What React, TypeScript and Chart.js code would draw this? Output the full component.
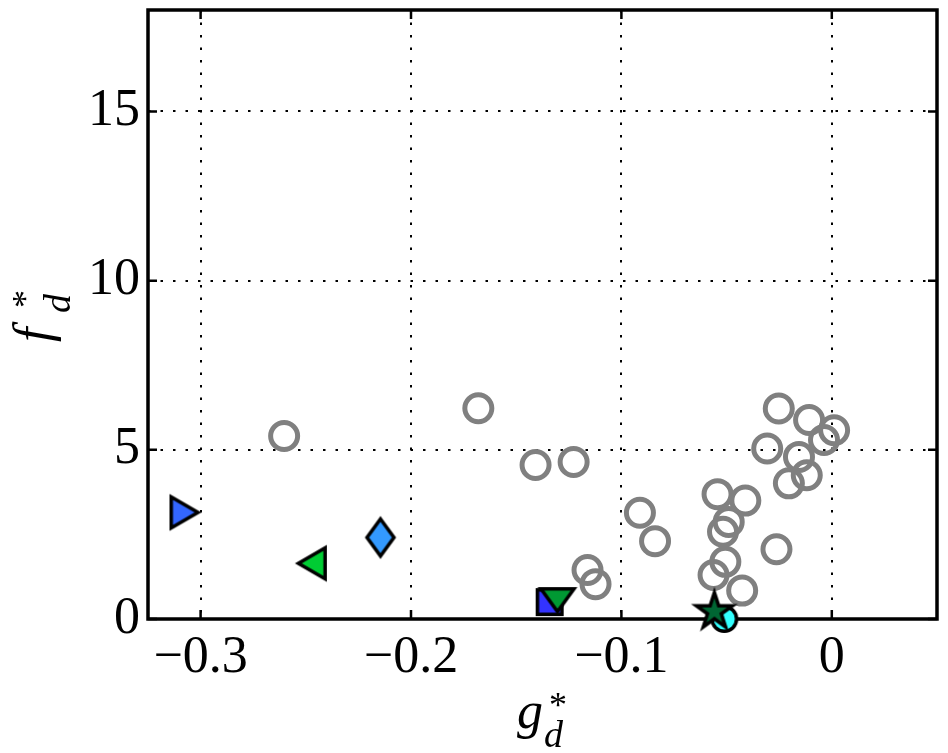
import React, { useEffect, useRef } from 'react';
import { Chart, registerables } from 'chart.js';

Chart.register(...registerables);

// grey open circles
const greyG = [
  -0.2603, -0.168, -0.1408, -0.1227, -0.0912, -0.084, -0.1161, -0.1123, -0.0543, -0.0411, -0.049, -0.0517,
  -0.0506, -0.0562, -0.0426, -0.0263, -0.0252, -0.0307, -0.0108, 0.0011, -0.0037, -0.0156, -0.0119, -0.0204
];
const greyF = [
  5.41, 6.23, 4.55, 4.64, 3.14, 2.3, 1.45, 1.03, 3.69, 3.5, 2.87, 2.58,
  1.69, 1.3, 0.84, 2.06, 6.22, 5.04, 5.88, 5.58, 5.29, 4.79, 4.25, 4.01
];

// highlighted markers, in drawing order (last one on top)
const markerShapes = ['triRight', 'triLeft', 'diamond', 'square', 'triDown', 'circle', 'star'];
const markerG = [-0.3072, -0.2476, -0.2145, -0.1341, -0.1304, -0.0511, -0.0558];
const markerF = [3.15, 1.645, 2.41, 0.5, 0.53, 0.0, 0.22];
const markerColors = ['#3366ff', '#00cc33', '#3399ff', '#3333ff', '#009933', '#33ffff', '#006633'];

const xTicks = [-0.3, -0.2, -0.1, 0];
const yTicks = [0, 5, 10, 15];

const SERIF = '"Liberation Serif", "Times New Roman", serif';
const LW = 3.5;

const makeMarker = (shape: string, color: string): HTMLCanvasElement => {
  const c = document.createElement('canvas');
  c.width = 56;
  c.height = 56;
  const g = c.getContext('2d')!;
  g.translate(28, 28);
  g.beginPath();
  if (shape === 'triRight') {
    g.moveTo(-14.25, -15.5);
    g.lineTo(12.5, 0);
    g.lineTo(-14.25, 15.5);
  } else if (shape === 'triLeft') {
    g.moveTo(14.25, -15.5);
    g.lineTo(-12.5, 0);
    g.lineTo(14.25, 15.5);
  } else if (shape === 'triDown') {
    g.moveTo(-16.5, -12.25);
    g.lineTo(16.5, -12.25);
    g.lineTo(0, 10.5);
  } else if (shape === 'diamond') {
    g.moveTo(0, -18.5);
    g.lineTo(13.5, 0);
    g.lineTo(0, 18.5);
    g.lineTo(-13.5, 0);
  } else if (shape === 'square') {
    g.rect(-12.25, -12.25, 24.5, 24.5);
  } else if (shape === 'circle') {
    g.arc(0, 0, 12.25, 0, Math.PI * 2);
  } else if (shape === 'star') {
    const R = 19;
    const r = R * 0.382;
    for (let i = 0; i < 10; i++) {
      const a = -Math.PI / 2 + (i * Math.PI) / 5;
      const rr = i % 2 === 0 ? R : r;
      if (i === 0) g.moveTo(rr * Math.cos(a), rr * Math.sin(a));
      else g.lineTo(rr * Math.cos(a), rr * Math.sin(a));
    }
  }
  g.closePath();
  g.fillStyle = color;
  g.fill();
  g.lineWidth = LW;
  g.lineJoin = 'miter';
  g.strokeStyle = '#000';
  g.stroke();
  return c;
};

// text placed by its ink box (left, top)
const drawInk = (ctx: CanvasRenderingContext2D, text: string, font: string, left: number, top: number) => {
  ctx.font = font;
  const m = ctx.measureText(text);
  ctx.fillText(text, left + m.actualBoundingBoxLeft, top + m.actualBoundingBoxAscent);
};

const framePlugin = {
  id: 'frame',
  beforeDatasetsDraw(chart: any) {
    const { ctx, chartArea: a, scales } = chart;
    ctx.save();
    ctx.strokeStyle = '#000';
    ctx.lineWidth = 2.5;
    ctx.beginPath();
    xTicks.forEach((v) => {
      const px = scales.x.getPixelForValue(v);
      ctx.moveTo(px, a.bottom);
      ctx.lineTo(px, a.bottom - 9);
      ctx.moveTo(px, a.top);
      ctx.lineTo(px, a.top + 9);
    });
    yTicks.forEach((v) => {
      const py = scales.y.getPixelForValue(v);
      ctx.moveTo(a.left, py);
      ctx.lineTo(a.left + 9, py);
      ctx.moveTo(a.right, py);
      ctx.lineTo(a.right - 9, py);
    });
    ctx.stroke();
    ctx.lineWidth = 3.5;
    ctx.strokeRect(a.left, a.top, a.right - a.left, a.bottom - a.top);
    ctx.restore();
  }
};

const titlePlugin = {
  id: 'titles',
  afterDraw(chart: any) {
    const ctx = chart.ctx as CanvasRenderingContext2D;
    const base = `italic 52px ${SERIF}`;
    const sup = `36px ${SERIF}`;
    const sub = `italic 38px ${SERIF}`;
    ctx.save();
    ctx.fillStyle = '#000';
    ctx.textAlign = 'left';
    ctx.textBaseline = 'alphabetic';
    drawInk(ctx, 'g', base, 517, 703);
    drawInk(ctx, '*', sup, 550, 693);
    drawInk(ctx, 'd', sub, 545, 720);
    ctx.rotate(-Math.PI / 2);
    drawInk(ctx, 'f', base, -342, 12);
    drawInk(ctx, 'd', sub, -312, 43);
    drawInk(ctx, '*', sup, -307, 13);
    ctx.restore();
  }
};

const App: React.FC = () => {
  const canvasRef = useRef<HTMLCanvasElement>(null);

  useEffect(() => {
    const ctx = canvasRef.current?.getContext('2d');
    if (!ctx) return;

    const markers = markerShapes.map((s, i) => makeMarker(s, markerColors[i]));

    const chart = new Chart(ctx, {
      type: 'scatter',
      data: {
        datasets: [
          {
            label: 'highlighted',
            data: markerG.map((g, i) => ({ x: g, y: markerF[i] })),
            pointStyle: markers,
            pointRadius: 15,
            clip: false
          } as any,
          {
            label: 'all',
            data: greyG.map((g, i) => ({ x: g, y: greyF[i] })),
            pointStyle: 'circle',
            pointRadius: 13.5,
            pointBorderWidth: 5,
            pointBorderColor: '#808080',
            pointBackgroundColor: 'rgba(0,0,0,0)',
            clip: false
          } as any
        ]
      },
      options: {
        animation: false,
        responsive: true,
        maintainAspectRatio: false,
        layout: { autoPadding: false, padding: { top: 10, right: 11, left: 0, bottom: 0 } },
        plugins: { legend: { display: false }, tooltip: { enabled: false } },
        scales: {
          x: {
            type: 'linear',
            min: -0.325,
            max: 0.05,
            afterBuildTicks: (axis: any) => {
              axis.ticks = xTicks.map((v) => ({ value: v }));
            },
            afterFit: (axis: any) => {
              axis.height = 134;
              axis.paddingLeft = 0;
              axis.paddingRight = 0;
            },
            grid: { color: '#000', lineWidth: 2, drawTicks: false },
            border: { display: false, dash: [2.5, 10] },
            ticks: {
              padding: 8,
              color: '#000',
              font: { family: SERIF, size: 52 },
              maxRotation: 0,
              autoSkip: false,
              callback: (v: any) => (Number(v) < 0 ? '\u2212' + Math.abs(Number(v)) : String(v))
            }
          },
          y: {
            type: 'linear',
            min: 0,
            max: 18,
            afterBuildTicks: (axis: any) => {
              axis.ticks = yTicks.map((v) => ({ value: v }));
            },
            afterFit: (axis: any) => {
              axis.width = 148;
              axis.paddingTop = 0;
              axis.paddingBottom = 0;
            },
            grid: { color: '#000', lineWidth: 2, drawTicks: false },
            border: { display: false, dash: [2.5, 10] },
            ticks: {
              padding: 8,
              color: '#000',
              font: { family: SERIF, size: 52 },
              autoSkip: false
            }
          }
        }
      },
      plugins: [framePlugin, titlePlugin]
    });

    return () => {
      chart.destroy();
    };
  }, []);

  return (
    <div style={{ position: 'absolute', left: 0, top: 0, width: 948, height: 753, background: '#fff' }}>
      <canvas ref={canvasRef} />
    </div>
  );
};

export default App;
